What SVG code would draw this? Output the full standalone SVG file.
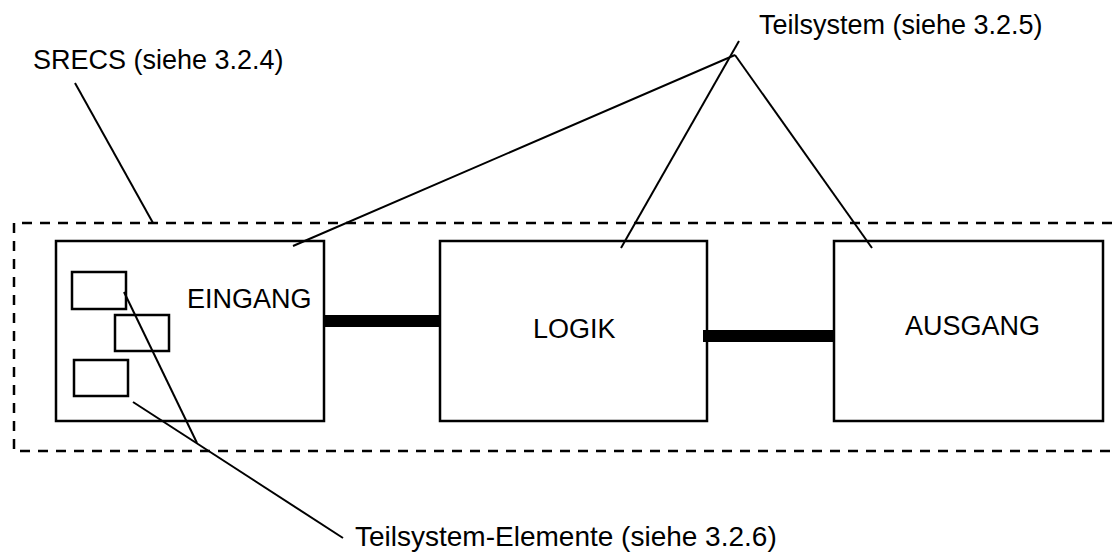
<svg xmlns="http://www.w3.org/2000/svg" width="1112" height="552" viewBox="0 0 1112 552">
  <style>
    .box { fill: none; stroke: #000; stroke-width: 2.5; }
    .frame { fill: none; stroke: #000; stroke-width: 2.5; stroke-dasharray: 10 8; }
    .lead { fill: none; stroke: #000; stroke-width: 2; }
    .bus { fill: none; stroke: #000; stroke-width: 12; }
    text { font-family: "Liberation Sans", Arial, sans-serif; font-size: 27px; fill: #000; }
  </style>
  <rect width="1112" height="552" fill="#fff"/>

  <!-- SRECS boundary (open to the right) -->
  <g id="srecs">
    <path class="frame" d="M1130,223 H14 V451 H1130"/>
  </g>

  <!-- Subsystems -->
  <g id="eingang">
    <rect class="box" x="56" y="241" width="268" height="180"/>
    <text x="187" y="308">EINGANG</text>
  </g>
  <g id="element1"><rect class="box" x="72" y="272" width="54" height="37"/></g>
  <g id="element2"><rect class="box" x="115" y="315" width="54" height="36"/></g>
  <g id="element3"><rect class="box" x="74" y="360" width="54" height="36"/></g>

  <g id="logik">
    <rect class="box" x="440" y="241" width="267" height="180"/>
    <text x="533" y="338">LOGIK</text>
  </g>
  <g id="ausgang">
    <rect class="box" x="834" y="241" width="269" height="180"/>
    <text x="905" y="335">AUSGANG</text>
  </g>

  <!-- Connections between subsystems -->
  <g id="connectors">
    <line class="bus" x1="324" y1="321" x2="440" y2="321"/>
    <line class="bus" x1="703" y1="336" x2="834" y2="336"/>
  </g>

  <!-- Labels and leader lines -->
  <g id="label-srecs">
    <text x="33" y="69">SRECS (siehe 3.2.4)</text>
    <line class="lead" x1="75" y1="83" x2="153" y2="223"/>
  </g>
  <g id="label-teilsystem">
    <text x="759" y="34">Teilsystem (siehe 3.2.5)</text>
    <line class="lead" x1="293" y1="246" x2="735" y2="55"/>
    <line class="lead" x1="621" y1="248" x2="739" y2="41"/>
    <line class="lead" x1="735" y1="55" x2="872" y2="248"/>
  </g>
  <g id="label-elemente">
    <text x="355" y="546" style="font-size:28px">Teilsystem-Elemente (siehe 3.2.6)</text>
    <line class="lead" x1="133" y1="402" x2="343" y2="538"/>
    <line class="lead" x1="124" y1="292" x2="197" y2="443"/>
  </g>
</svg>
